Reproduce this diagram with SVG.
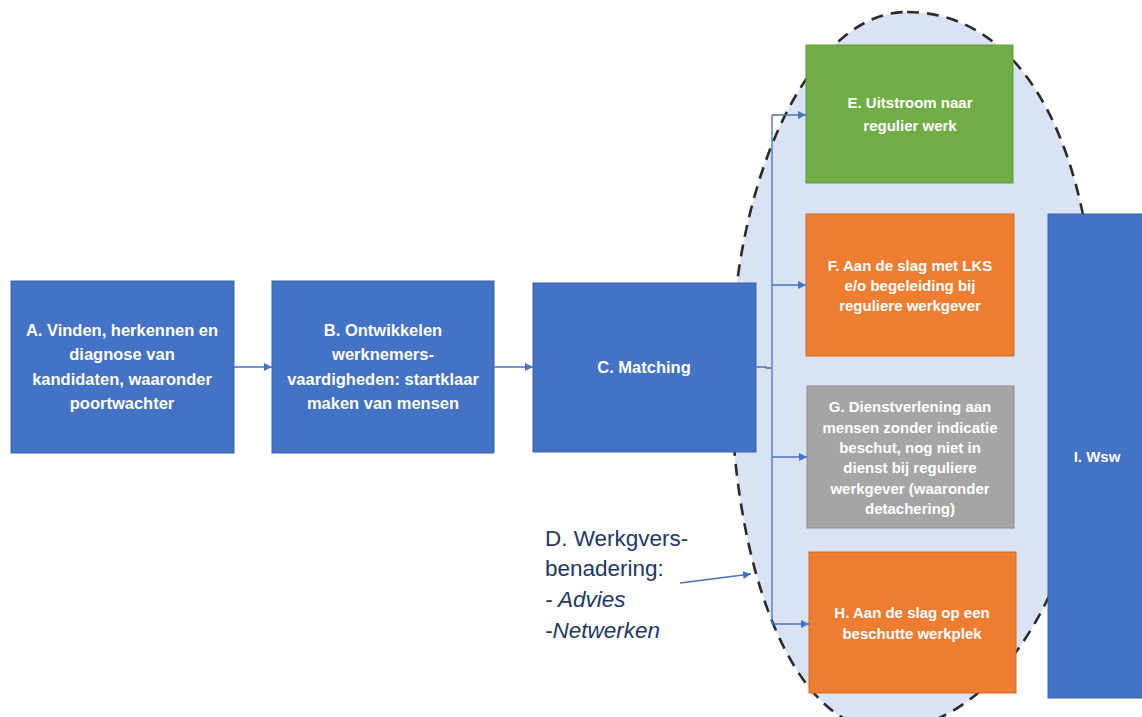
<svg xmlns="http://www.w3.org/2000/svg" width="1142" height="717" viewBox="0 0 1142 717">
<defs>
<marker id="ah" viewBox="0 0 10 10" refX="10" refY="5" markerWidth="8" markerHeight="8" orient="auto" markerUnits="userSpaceOnUse"><path d="M0,0 L10,5 L0,10 z" fill="#4472C4"/></marker>
<style>
.box{stroke-width:1}
.blue{fill:#4472C4;stroke:#3A62AA}
.green{fill:#70AD47;stroke:#5E9A3A}
.orange{fill:#ED7D31;stroke:#D46A22}
.gray{fill:#A5A5A5;stroke:#8E8E8E}
.t{font-family:"Liberation Sans",Arial,sans-serif;font-weight:bold;fill:#fff;text-anchor:middle}
.big{font-size:16.5px}
.sm{font-size:15px}
.conn{stroke:#4472C4;stroke-width:1.3;fill:none}
.d{font-family:"Liberation Sans",Arial,sans-serif;font-size:22.5px;fill:#1F3864}
</style>
</defs>
<rect width="1142" height="717" fill="#fff"/>
<g id="ellipse">
<path d="M907,12 C1025,12 1097,150 1097,365 C1097,570 1000,730 885,730 C790,730 731,560 731,375 C731,180 810,12 907,12 Z" fill="#DAE3F3" stroke="#2B2B2B" stroke-width="2.6" stroke-dasharray="12,8"/>
</g>
<g id="nodeA"><rect class="box blue" x="11" y="281" width="223" height="172"/>
<text class="t big"><tspan x="122" y="336">A. Vinden, herkennen en</tspan><tspan x="122" y="360">diagnose van</tspan><tspan x="122" y="385">kandidaten, waaronder</tspan><tspan x="122" y="409">poortwachter</tspan></text></g>
<g id="nodeB"><rect class="box blue" x="272" y="281" width="222" height="172"/>
<text class="t big"><tspan x="383" y="336">B. Ontwikkelen</tspan><tspan x="383" y="360">werknemers-</tspan><tspan x="383" y="385">vaardigheden: startklaar</tspan><tspan x="383" y="409">maken van mensen</tspan></text></g>
<g id="nodeC"><rect class="box blue" x="533" y="283" width="223" height="169"/>
<text class="t big" x="644" y="373">C. Matching</text></g>
<g id="nodeE"><rect class="box green" x="806" y="45" width="207" height="138"/>
<text class="t sm"><tspan x="910" y="108">E. Uitstroom naar</tspan><tspan x="910" y="131">regulier werk</tspan></text></g>
<g id="nodeF"><rect class="box orange" x="806" y="214" width="208" height="142"/>
<text class="t sm"><tspan x="910" y="271">F. Aan de slag met LKS</tspan><tspan x="910" y="291">e/o begeleiding bij</tspan><tspan x="910" y="311">reguliere werkgever</tspan></text></g>
<g id="nodeG"><rect class="box gray" x="807" y="386" width="207" height="142"/>
<text class="t sm"><tspan x="910" y="412">G. Dienstverlening aan</tspan><tspan x="910" y="433">mensen zonder indicatie</tspan><tspan x="910" y="453">beschut, nog niet in</tspan><tspan x="910" y="473">dienst bij reguliere</tspan><tspan x="910" y="494">werkgever (waaronder</tspan><tspan x="910" y="514">detachering)</tspan></text></g>
<g id="nodeH"><rect class="box orange" x="809" y="552" width="207" height="141"/>
<text class="t sm"><tspan x="912" y="618">H. Aan de slag op een</tspan><tspan x="912" y="639">beschutte werkplek</tspan></text></g>
<g id="nodeI"><rect class="box blue" x="1048" y="214" width="100" height="484"/>
<text class="t sm" x="1097" y="462">I. Wsw</text></g>
<g id="nodeD">
<text class="d"><tspan x="545" y="546">D. Werkgvers-</tspan><tspan x="545" y="576">benadering:</tspan><tspan x="545" y="607" font-style="italic">- Advies</tspan><tspan x="545" y="638" font-style="italic">-Netwerken</tspan></text>
</g>
<g id="connectors">
<line class="conn" x1="234" y1="367" x2="272" y2="367" marker-end="url(#ah)"/>
<line class="conn" x1="494" y1="367" x2="533" y2="367" marker-end="url(#ah)"/>
<polyline class="conn" points="756,367 766,367 766,368 772,368"/>
<line class="conn" x1="772" y1="115" x2="772" y2="624"/>
<line class="conn" x1="772" y1="115" x2="806" y2="115" marker-end="url(#ah)"/>
<line class="conn" x1="772" y1="285" x2="806" y2="285" marker-end="url(#ah)"/>
<line class="conn" x1="772" y1="457" x2="807" y2="457" marker-end="url(#ah)"/>
<line class="conn" x1="772" y1="624" x2="809" y2="624" marker-end="url(#ah)"/>
<line class="conn" x1="680" y1="583" x2="751" y2="574" marker-end="url(#ah)"/>
</g>
</svg>
